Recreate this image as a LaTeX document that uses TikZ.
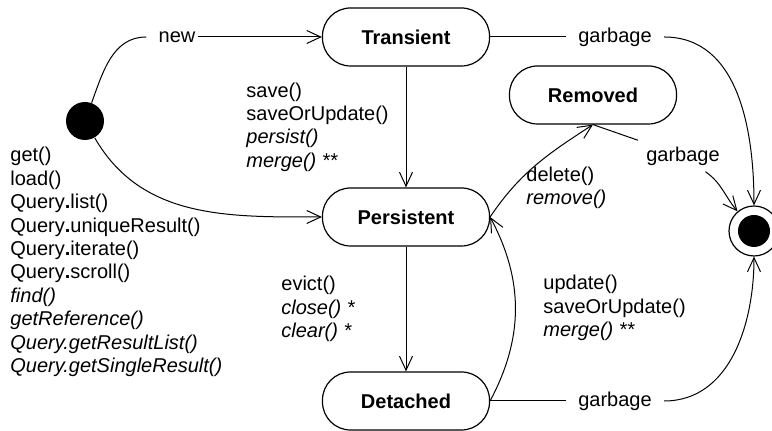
\documentclass[tikz,border=0pt]{standalone}
\usepackage{fontspec}
\setmainfont{Liberation Sans}
\usetikzlibrary{arrows.meta}

\begin{document}
\begin{tikzpicture}[
  x=0.5pt, y=0.5pt,
  font=\fontsize{10}{11.7}\selectfont,
  state/.style={draw, line width=0.6pt, rounded corners=14pt, minimum width=83.5pt, minimum height=29pt, font=\fontsize{10}{12}\selectfont\bfseries},
  calls/.style={align=left, anchor=west, inner sep=0pt},
  lbl/.style={inner xsep=6pt, inner ysep=3pt},
  line/.style={line width=0.5pt},
  arrow/.style={-{Straight Barb[length=7pt,width=6.5pt]}, line width=0.5pt}
]
\clip (0,0) rectangle (772,431);
% states
\node[state] (transient) at (406,394) {Transient};
\node[state] (persistent) at (406,214) {Persistent};
\node[state] (detached) at (406,30) {Detached};
\node[state] (removed) at (593,336) {Removed};
\node[circle, fill=black, minimum size=19pt, inner sep=0pt] (init) at (85,310) {};
\node[circle, draw, line width=0.6pt, minimum size=25pt, inner sep=0pt] (final) at (754,200) {};
\node[circle, fill=black, minimum size=16pt, inner sep=0pt] (finaldot) at (final) {};
% transition labels
\node[lbl] (new) at (177,394) {new};
\node[lbl] (garbT) at (615,394) {garbage};
\node[lbl] (garbR) at (683,275) {garbage};
\node[lbl] (garbD) at (615,30) {garbage};
\node[calls] (loadcalls) at (10,169) {get()\\load()\\Query\textbf{.}list()\\Query\textbf{.}uniqueResult()\\Query\textbf{.}iterate()\\Query\textbf{.}scroll()\\\textit{find()}\\\textit{getReference()}\\\textit{Query.getResultList()}\\\textit{Query.getSingleResult()}};
\node[calls] (savecalls) at (246,304) {save()\\saveOrUpdate()\\\textit{persist()}\\\textit{merge() **}};
\node[calls] (evictcalls) at (281,122) {evict()\\\textit{close() *}\\\textit{clear() *}};
\node[calls] (updatecalls) at (543,123) {update()\\saveOrUpdate()\\\textit{merge() **}};
\node[calls] (deletecalls) at (526,243) {delete()\\\textit{remove()}};
% transitions
\draw[line] (init) to[out=70,in=180] (new.west);
\draw[arrow] ([xshift=-5pt]new.east) -- (transient);
\draw[arrow] (init) to[out=-60,in=180] (persistent.west);
\draw[arrow] (transient) -- (persistent);
\draw[arrow] (persistent) -- (detached);
\draw[arrow] (persistent.east) to[out=56,in=213] (removed.south);
\draw[arrow] (detached.east) to[out=62,in=-62] (persistent.east);
\draw[line] (transient) -- (garbT);
\draw[arrow] (garbT) to[out=0,in=90] (final);
\draw[line] (removed.south) -- (garbR);
\draw[arrow] (garbR) to[out=-35,in=130] (final);
\draw[line] (detached) -- (garbD);
\draw[arrow] (garbD) to[out=0,in=-90] (final);
\end{tikzpicture}
\end{document}
